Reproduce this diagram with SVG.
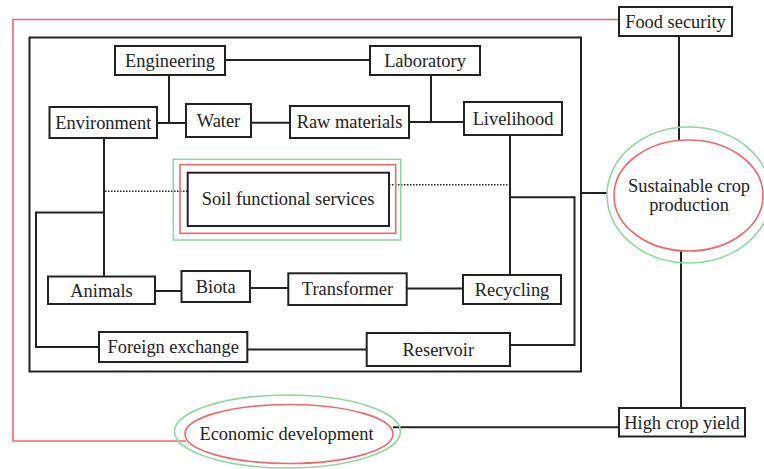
<svg xmlns="http://www.w3.org/2000/svg" width="764" height="469" viewBox="0 0 764 469">
<style>
.box{fill:#fff;stroke:#222;stroke-width:2}
.ln{fill:none;stroke:#222;stroke-width:2}
.dot{fill:none;stroke:#222;stroke-width:1.5;stroke-dasharray:1.5 1.5}
.red{fill:none;stroke:#f0686c;stroke-width:1.6}
.grn{fill:none;stroke:#90d8a0;stroke-width:1.6}
text{font-size:18.4px;fill:#222;text-anchor:middle}
</style>
<rect width="764" height="469" fill="#fff"/>
<g id="connectors">
<path class="red" d="M619,19.5 H13 V441 H186"/>
<rect class="ln" x="29.5" y="37.5" width="551.5" height="334"/>
<path class="ln" d="M225,60 H370"/>
<path class="ln" d="M169,75 V123 M157,123 H186"/>
<path class="ln" d="M251,122.7 H290"/>
<path class="ln" d="M409,122 H464 M431,75 V122"/>
<path class="ln" d="M104,138 V276.5 M104,212.5 H36 V347 H99"/>
<path class="dot" d="M105,191.3 H188"/>
<path class="dot" d="M389,184.7 H510"/>
<path class="ln" d="M510,135 V275 M510,197.3 H574.5 V345 H510"/>
<path class="ln" d="M155,291 H181.5"/>
<path class="ln" d="M250,288 H288.3"/>
<path class="ln" d="M406.7,288.5 H463"/>
<path class="ln" d="M247.3,349.5 H366.7"/>
<path class="ln" d="M581,193 H607"/>
<path class="ln" d="M679,36 V140"/>
<path class="ln" d="M681,251 V408"/>
<path class="ln" d="M393,427.3 H619"/>
</g>
<g font-family="Liberation Serif, DejaVu Serif, serif">
<g id="engineering"><rect class="box" x="115" y="46" width="110" height="29"/><text x="170" y="67">Engineering</text></g>
<g id="laboratory"><rect class="box" x="370" y="46" width="110" height="29"/><text x="425" y="67">Laboratory</text></g>
<g id="environment"><rect class="box" x="49.5" y="107" width="107.5" height="31"/><text x="103.3" y="129">Environment</text></g>
<g id="water"><rect class="box" x="186" y="104" width="65" height="33"/><text x="218.5" y="127">Water</text></g>
<g id="raw-materials"><rect class="box" x="290" y="106" width="119" height="32"/><text x="349.5" y="128">Raw materials</text></g>
<g id="livelihood"><rect class="box" x="464" y="102" width="98" height="33"/><text x="513" y="125">Livelihood</text></g>
<g id="soil-functional-services">
<rect class="grn" x="173.3" y="159.3" width="227.4" height="80.7"/>
<rect class="red" x="180" y="164.7" width="215.7" height="68.6"/>
<rect class="box" x="187.7" y="172.7" width="201.3" height="53.3"/>
<text x="288" y="205">Soil functional services</text>
</g>
<g id="animals"><rect class="box" x="48" y="276.5" width="107" height="27.5"/><text x="101.5" y="297">Animals</text></g>
<g id="biota"><rect class="box" x="181.5" y="271" width="68.5" height="31"/><text x="215.7" y="293">Biota</text></g>
<g id="transformer"><rect class="box" x="288.3" y="273.3" width="118.4" height="31.7"/><text x="347.5" y="295">Transformer</text></g>
<g id="recycling"><rect class="box" x="463" y="275" width="98" height="29"/><text x="512" y="296">Recycling</text></g>
<g id="foreign-exchange"><rect class="box" x="99" y="332" width="148.3" height="30"/><text x="173.2" y="353">Foreign exchange</text></g>
<g id="reservoir"><rect class="box" x="366.7" y="333" width="143.3" height="33"/><text x="438.3" y="356">Reservoir</text></g>
<g id="food-security"><rect class="box" x="619" y="7" width="113" height="29"/><text x="675.5" y="28">Food security</text></g>
<g id="sustainable-crop-production">
<ellipse class="grn" cx="689" cy="195" rx="82" ry="68"/>
<ellipse class="red" cx="688.5" cy="195.5" rx="74.5" ry="55.5"/>
<text x="689" y="192">Sustainable crop</text>
<text x="689" y="211">production</text>
</g>
<g id="high-crop-yield"><rect class="box" x="619" y="408" width="126" height="28.5"/><text x="682" y="429">High crop yield</text></g>
<g id="economic-development">
<ellipse class="grn" cx="287.5" cy="431.5" rx="113" ry="36.5"/>
<ellipse class="red" cx="289" cy="434" rx="104" ry="29.5"/>
<text x="286.5" y="440">Economic development</text>
</g>
</g>
</svg>
